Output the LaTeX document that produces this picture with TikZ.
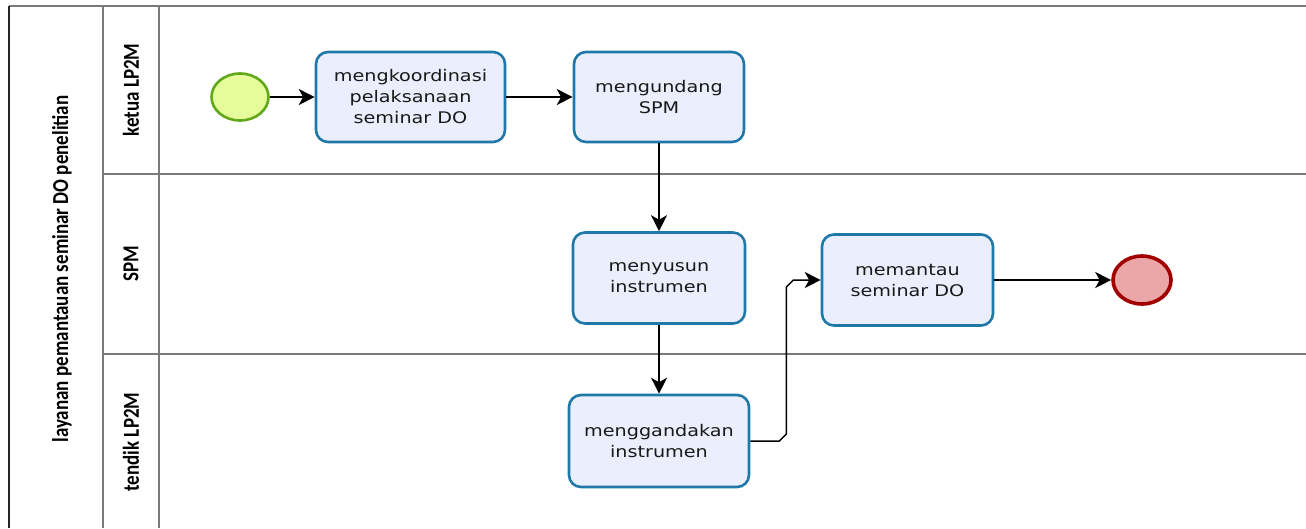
\documentclass[tikz,border=0pt]{standalone}
\usepackage{fontspec}
\usetikzlibrary{arrows.meta}
\newfontfamily\taskfont[FakeStretch=1.2]{DejaVu Sans}
\newfontfamily\lanefont{Carlito}
\definecolor{taskborder}{HTML}{1F78A8}
\definecolor{taskfill}{HTML}{EBEFFD}
\definecolor{startfill}{HTML}{E5FC9A}
\definecolor{startborder}{HTML}{63A81A}
\definecolor{endfill}{HTML}{EBA6A8}
\definecolor{endborder}{HTML}{A00000}
\definecolor{laneline}{HTML}{7A7A7A}
\tikzset{
  task/.style={draw=taskborder, fill=taskfill, line width=2.6pt, rounded corners=12pt,
    align=center, inner sep=0pt, font=\taskfont\fontsize{16}{21}\selectfont, text=black!90},
  startev/.style={ellipse, draw=startborder, fill=startfill, line width=2.6pt,
    minimum width=57pt, minimum height=47pt, inner sep=0pt},
  endev/.style={ellipse, draw=endborder, fill=endfill, line width=3.6pt,
    minimum width=58pt, minimum height=48pt, inner sep=0pt},
  flow/.style={draw=black, line width=1.5pt, -{Stealth[length=16pt, width=16pt, inset=4.5pt]}},
  lanelbl/.style={rotate=90, font=\lanefont\fontsize{19}{22}\selectfont\bfseries},
  lane/.style={draw=laneline, line width=1.6pt}
}
\usetikzlibrary{shapes.geometric}
\begin{document}
\begin{tikzpicture}[x=1pt, y=-1pt]
\useasboundingbox (0,0) rectangle (1306,528);
\fill[white] (0,0) rectangle (1306,528);
% pool and lanes
\draw[lane] (9,6) -- (1306,6);
\draw[lane] (103,6) -- (103,528);
\draw[lane] (159,6) -- (159,528);
\draw[lane] (103,174) -- (1306,174);
\draw[lane] (103,354) -- (1306,354);
\draw[draw=black!85, line width=1.8pt] (9,6) -- (9,528);
% labels
\node[lanelbl] (pool) at (62,269) {\scalebox{1}[1.2]{layanan pemantauan seminar DO penelitian}};
\node[lanelbl] (l1) at (131,90) {\scalebox{1}[1.2]{ketua LP2M}};
\node[lanelbl] (l2) at (131,264) {\scalebox{1}[1.2]{SPM}};
\node[lanelbl] (l3) at (131,442) {\scalebox{1}[1.2]{tendik LP2M}};
% events
\node[startev] (start) at (240,97) {};
\node[endev] (end) at (1142,280) {};
% tasks
\node[task, minimum width=189pt, minimum height=90pt] (t1) at (410.5,97) {mengkoordinasi\\pelaksanaan\\seminar DO};
\node[task, minimum width=170pt, minimum height=90pt] (t2) at (659,97) {mengundang\\SPM};
\node[task, minimum width=172pt, minimum height=91pt] (t3) at (659,278) {menyusun\\instrumen};
\node[task, minimum width=171pt, minimum height=91pt] (t4) at (907.5,280) {memantau\\seminar DO};
\node[task, minimum width=180pt, minimum height=92pt] (t5) at (659,441) {menggandakan\\instrumen};
% flows
\draw[flow] (start) -- (t1);
\draw[flow] (t1) -- (t2);
\draw[flow] (t2) -- (t3);
\draw[flow] (t3) -- (t5);
\draw[flow] (t5.east) -- ++(29,0) -- ++(7,-7) -- ++(0,-147) -- ++(7,-7) -- (t4.west);
\draw[flow] (t4) -- (end);
\end{tikzpicture}
\end{document}
